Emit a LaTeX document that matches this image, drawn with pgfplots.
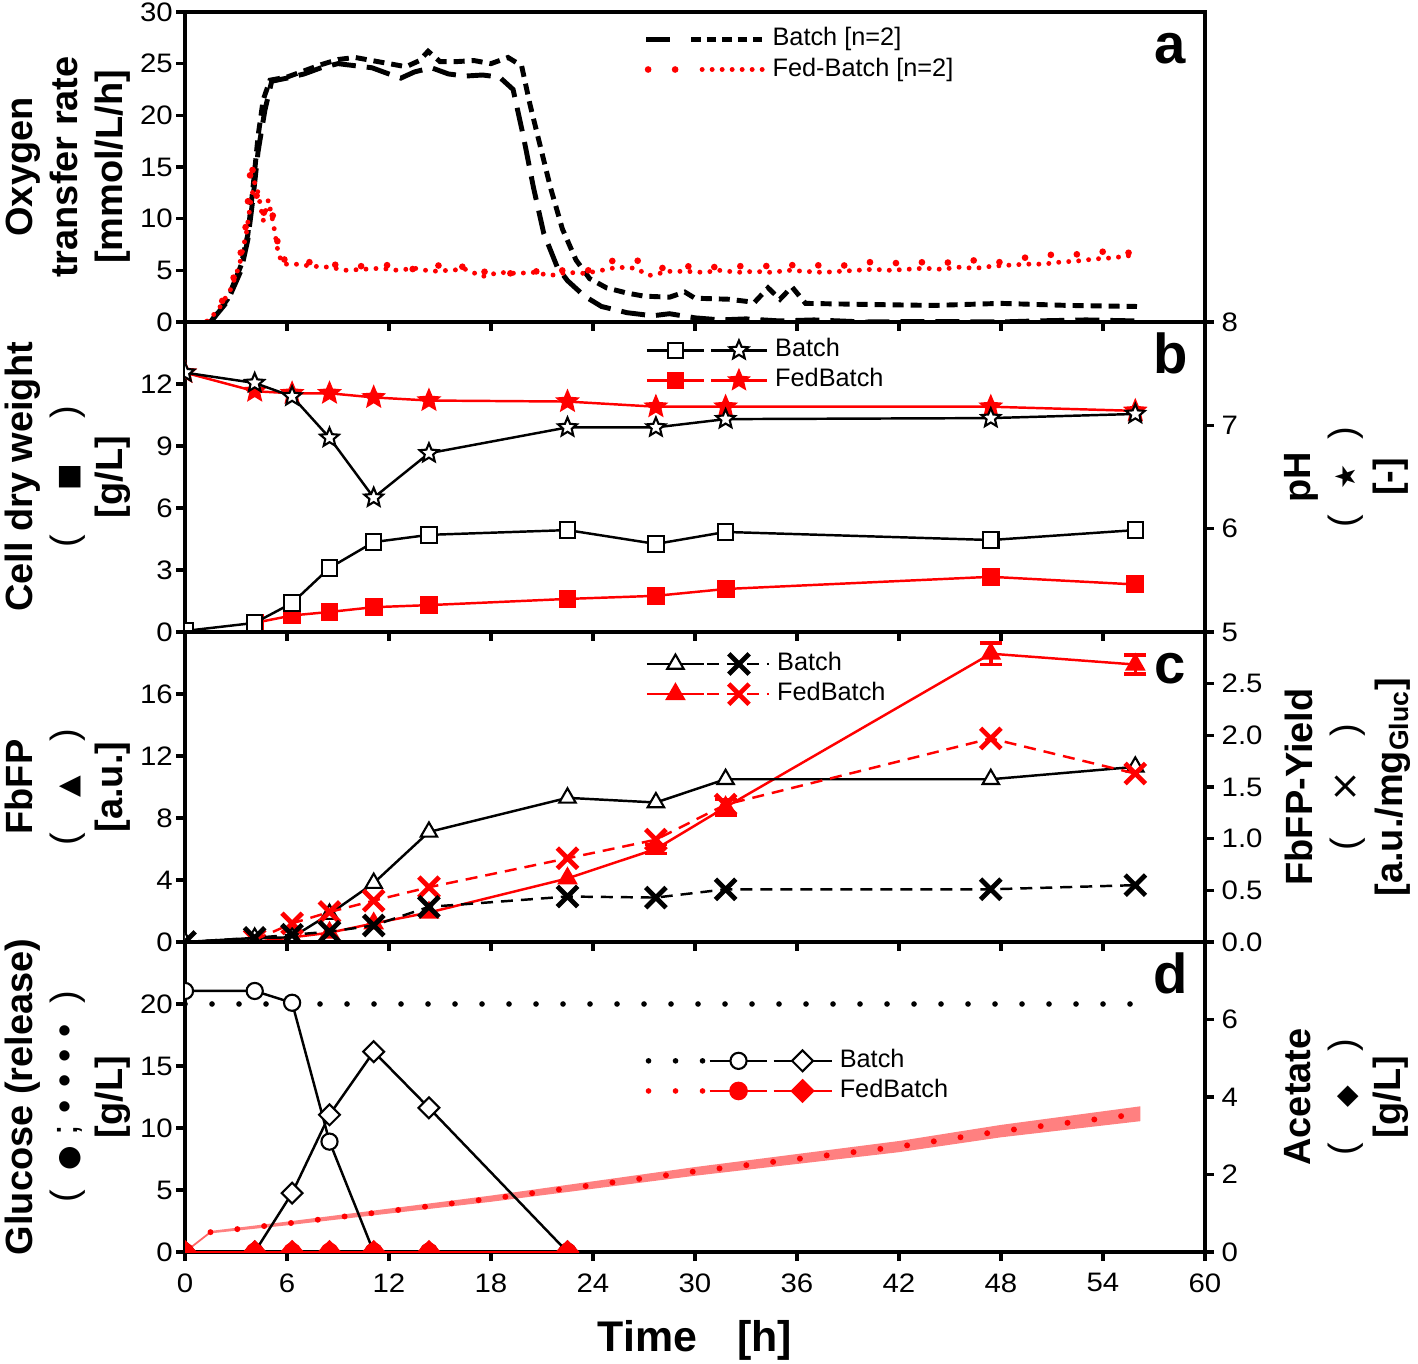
\documentclass[border=0pt]{standalone}
\usepackage{fontspec}
\setmainfont{Liberation Sans}
\newfontfamily\sym{DejaVu Sans}
\newfontfamily\tickfont[FakeStretch=1.1]{Liberation Sans}
\usepackage{pgfplots}
\pgfplotsset{compat=1.18}
\usetikzlibrary{plotmarks}

\pgfdeclareplotmark{ostar}{%
 \pgfpathmoveto{\pgfpointpolar{90}{\pgfplotmarksize}}%
 \pgfpathlineto{\pgfpointpolar{126}{0.45\pgfplotmarksize}}%
 \pgfpathlineto{\pgfpointpolar{162}{\pgfplotmarksize}}%
 \pgfpathlineto{\pgfpointpolar{198}{0.45\pgfplotmarksize}}%
 \pgfpathlineto{\pgfpointpolar{234}{\pgfplotmarksize}}%
 \pgfpathlineto{\pgfpointpolar{270}{0.45\pgfplotmarksize}}%
 \pgfpathlineto{\pgfpointpolar{306}{\pgfplotmarksize}}%
 \pgfpathlineto{\pgfpointpolar{342}{0.45\pgfplotmarksize}}%
 \pgfpathlineto{\pgfpointpolar{18}{\pgfplotmarksize}}%
 \pgfpathlineto{\pgfpointpolar{54}{0.45\pgfplotmarksize}}%
 \pgfpathclose
 \pgfusepathqfillstroke
}

\tikzset{lt/.style={font=\fontsize{16}{16}\selectfont\bfseries, anchor=base},
 xm/.style={mark=x, mark size=4.1pt, mark options={solid, line width=1.35pt}}}

\pgfplotsset{
 panel/.style={width=102mm, height=31mm, scale only axis, xmin=0, xmax=60,
   xtick={0,6,...,60}, tick align=outside, major tick length=0.9mm,
   xtick pos=left, ytick pos=left,
   axis line style={line width=1.3pt}, tick style={line width=1pt, black},
   tick label style={font=\tickfont\fontsize{7.6}{9}\selectfont},
   yticklabel style={inner sep=0.7pt},
   /pgf/number format/assume math mode=true, clip marker paths=true,
   ylabel style={at={(axis description cs:-0.0529,0.5)}, anchor=south, align=center, inner sep=0pt,
     font=\fontsize{10.8}{12.8}\selectfont\bfseries},
   legend style={anchor=north west, draw=none, fill=none, font=\fontsize{7.2}{8.6}\selectfont,
     row sep=0.15mm, inner sep=0pt, nodes={inner sep=0.25mm},
     /tikz/every odd column/.append style={column sep=0.45mm}},
   legend cell align=left},
 rpanel/.style={width=102mm, height=31mm, scale only axis, xmin=0, xmax=60,
   axis x line=none, axis y line*=right, tick align=outside, major tick length=0.9mm,
   axis line style={line width=1.3pt}, tick style={line width=1pt, black},
   tick label style={font=\tickfont\fontsize{7.6}{9}\selectfont},
   yticklabel style={inner sep=2pt},
   /pgf/number format/assume math mode=true, clip marker paths=true,
   ylabel style={at={(axis description cs:1.0775,0.5)}, anchor=north, align=center, inner sep=0pt,
     font=\fontsize{10.8}{12.8}\selectfont\bfseries}}
}

\begin{document}
\begin{tikzpicture}
% ---------------- panel a
\begin{axis}[panel, at={(0,93mm)}, ymin=0, ymax=30, ytick={0,5,...,30}, xticklabels=\empty,
  ylabel={Oxygen\\transfer rate\\{}[mmol/L/h]},
  legend style={at={(axis description cs:0.449,0.96)}}]
\addlegendimage{legend image code/.code={%
  \draw[black,line width=1.4pt] (0mm,0mm)--(2.4mm,0mm);
  \draw[black,line width=1.4pt,dash pattern=on 0.95mm off 0.6mm] (4.5mm,0mm)--(11.6mm,0mm);}}
\addlegendentry{Batch [n=2]}
\addlegendimage{legend image code/.code={%
  \draw[red,line width=1.9pt,line cap=round,dash pattern=on 0pt off 2.7mm] (0.2mm,0mm)--(3mm,0mm);
  \draw[red,line width=1.4pt,line cap=round,dash pattern=on 0pt off 1mm] (5.6mm,0mm)--(11.7mm,0mm);}}
\addlegendentry{Fed-Batch [n=2]}
\addplot[forget plot, black, line width=1.4pt, dash pattern=on 2.4mm off 1.1mm] coordinates {
(1.5,0)(2.5,2.0)(3.3,5.0)(3.7,8)(4.0,12)(4.3,16.5)(4.7,20.5)(5.1,23.3)(6,23.6)(7,24.0)(8,24.6)(9,25.0)(10,24.8)(11,24.6)(12,24.0)(12.7,23.6)(13.5,24.2)(14.5,24.6)(15.5,24.0)(16.5,23.8)(17.5,23.9)(18.5,23.7)(19.3,22.5)(19.9,18)(20.5,13)(21.1,8.6)(21.9,5.3)(22.5,4.0)(23.5,2.5)(24.5,1.5)(26,0.9)(27.5,0.6)(28.5,0.8)(30,0.4)(31.5,0.2)(33,0.3)(35,0.1)(37,0.2)(40,0)(44,0.05)(48,0)(50,0.1)(53,0.2)(56,0.1)};
\addplot[forget plot, black, line width=1.4pt, dash pattern=on 1.1mm off 0.7mm] coordinates {
(1.5,0)(2.5,2.2)(3.3,5.5)(3.7,8.5)(4.0,13)(4.3,18)(4.6,21.5)(5,23.4)(6,23.7)(7,24.3)(8,24.9)(9,25.4)(10,25.6)(11,25.3)(12,25.0)(13,24.7)(13.8,25.3)(14.3,26.2)(15,25.2)(16,25.2)(17,25.3)(18,25.0)(19,25.6)(19.8,24.8)(20.3,21)(20.9,17)(21.5,13)(22.2,9)(23,6)(23.8,4.2)(24.8,3.3)(26,2.8)(27,2.5)(28.5,2.4)(29.4,2.9)(30,2.3)(32,2.2)(33.5,1.9)(34.3,3.3)(35,2.2)(35.7,3.4)(36.5,1.8)(40,1.7)(44,1.6)(48,1.8)(52,1.6)(56,1.5)};
\addplot[forget plot, red, line width=1.9pt, line cap=round, dash pattern=on 0pt off 2.6mm] coordinates {
(1.3,0)(2,1.5)(2.7,3.5)(3.2,6)(3.6,9.5)(3.9,15.7)(4.1,13)(4.5,10.2)(5.0,11.6)(5.2,10)(5.3,8.9)(5.5,7.3)(5.6,5.8)(6.0,6.2)(6.6,5.9)(7.2,5.8)(8.3,5.7)(9.3,5.4)(10.4,5.4)(11.1,5.4)(11.9,5.5)(13.3,5.1)(14.7,5.4)(16.0,5.8)(16.9,4.5)(17.7,4.9)(19.1,4.7)(20.7,4.9)(22.4,5.0)(23.9,5.0)(25.4,6.1)(26.5,6.0)(27.9,5.2)(29.4,5.4)(30.9,5.3)(32.4,5.4)(34,5.4)(35.4,5.5)(37,5.5)(38.5,5.4)(40.1,5.8)(41.8,5.7)(43,5.8)(44.6,5.7)(46.2,6.0)(47.6,5.7)(49.3,6.2)(50.7,6.5)(52.2,6.5)(53.8,6.8)(55.3,6.8)(55.9,6.5)};
\addplot[forget plot, red, line width=1.4pt, line cap=round, dash pattern=on 0pt off 1mm] coordinates {
(1.3,0)(2,1.3)(2.7,3.2)(3.2,5.5)(3.6,8.5)(3.9,12)(4.1,13.5)(4.3,12.5)(4.6,9.8)(4.9,11.8)(5.2,9.5)(5.5,6.5)(5.8,5.6)(6.5,5.6)(7.5,5.4)(8.5,5.3)(9.5,5.0)(10.5,5.1)(11.5,5.2)(12.5,5.0)(13.5,5.2)(14.5,4.9)(15.5,5.0)(16.5,5.1)(17.5,4.4)(18.5,4.8)(19.5,4.7)(20.5,4.8)(21.5,4.5)(22.5,4.8)(23.5,4.7)(24.5,5.0)(25.5,5.3)(26.5,5.2)(27.3,4.5)(28.5,4.9)(29.5,4.9)(30.5,4.8)(31.5,5.0)(32.5,4.8)(33.5,4.9)(34.5,4.8)(35.5,5.0)(36.5,4.9)(37.5,4.8)(38.5,4.9)(39.5,5.0)(40.5,5.1)(41.5,5.0)(42.5,5.1)(43.5,5.2)(44.5,5.1)(45.5,5.3)(46.5,5.2)(47.5,5.4)(48.5,5.5)(49.5,5.6)(50.5,5.6)(51.5,5.8)(52.5,5.9)(53.5,6.1)(54.5,6.2)(55.5,6.4)(56,6.3)};
\node[lt] at (axis description cs:0.966,0.835) {a};
\end{axis}

% ---------------- panel b
\begin{axis}[panel, at={(0,62mm)}, ymin=0, ymax=15, ytick={0,3,...,12}, xticklabels=\empty,
  ylabel={Cell dry weight\\{\mdseries(\hspace{4.5mm}{\sym\footnotesize ■}\hspace{4.5mm})}\\{}[g/L]},
  legend style={at={(axis description cs:0.451,0.957)}}]
\addlegendimage{legend image code/.code={%
  \draw[black,line width=0.7pt,mark=square*,mark size=2.2pt,mark options={fill=white,line width=0.6pt},mark repeat=2,mark phase=2] plot coordinates {(0mm,0mm)(2.85mm,0mm)(5.7mm,0mm)};
  \draw[black,line width=0.7pt,mark=ostar,mark size=2.8pt,mark options={fill=white,line width=0.6pt},mark repeat=2,mark phase=2] plot coordinates {(6.4mm,0mm)(9.2mm,0mm)(12mm,0mm)};}}
\addlegendentry{Batch}
\addlegendimage{legend image code/.code={%
  \draw[red,line width=0.7pt,mark=square*,mark size=2.2pt,mark options={fill=red,line width=0.6pt},mark repeat=2,mark phase=2] plot coordinates {(0mm,0mm)(2.85mm,0mm)(5.7mm,0mm)};
  \draw[red,line width=0.7pt,mark=ostar,mark size=2.8pt,mark options={fill=red,line width=0.6pt},mark repeat=2,mark phase=2] plot coordinates {(6.4mm,0mm)(9.2mm,0mm)(12mm,0mm)};}}
\addlegendentry{FedBatch}
\addplot[forget plot, red, line width=0.7pt, mark=square*, mark size=2.2pt, mark options={fill=red}] coordinates {
(4.1,0.44)(6.3,0.8)(8.5,0.97)(11.1,1.2)(14.35,1.3)(22.5,1.6)(27.7,1.75)(31.8,2.08)(47.4,2.67)(55.9,2.3)};
\addplot[forget plot, black, line width=0.7pt, mark=square*, mark size=2.2pt, mark options={fill=white, line width=0.6pt}] coordinates {
(0,0.05)(4.1,0.44)(6.3,1.4)(8.5,3.1)(11.1,4.35)(14.35,4.7)(22.5,4.93)(27.7,4.26)(31.8,4.84)(47.4,4.45)(55.9,4.93)};
\node[lt] at (axis description cs:0.966,0.835) {b};
\end{axis}
\begin{axis}[rpanel, at={(0,62mm)}, ymin=5, ymax=8, ytick={5,6,7,8},
  ylabel={pH\\{\mdseries(\hspace{2.5mm}{\sym\footnotesize ★}\hspace{2.5mm})}\\{}[-]}]
\addplot[red, line width=0.7pt, mark=ostar, mark size=2.8pt, mark options={fill=red}] coordinates {
(0,7.51)(4.1,7.33)(6.3,7.31)(8.5,7.31)(11.1,7.27)(14.35,7.24)(22.5,7.23)(27.7,7.18)(31.8,7.18)(47.4,7.18)(55.9,7.14)};
\addplot[black, line width=0.7pt, mark=ostar, mark size=2.8pt, mark options={fill=white, line width=0.6pt}] coordinates {
(0,7.51)(4.1,7.41)(6.3,7.28)(8.5,6.88)(11.1,6.30)(14.35,6.73)(22.5,6.98)(27.7,6.98)(31.8,7.06)(47.4,7.07)(55.9,7.11)};
\end{axis}

% ---------------- panel c
\begin{axis}[panel, at={(0,31mm)}, ymin=0, ymax=20, ytick={0,4,...,16}, xticklabels=\empty,
  ylabel={FbFP\\{\mdseries(\hspace{3.5mm}{\sym\footnotesize ▲}\hspace{3.5mm})}\\{}[a.u.]},
  legend style={at={(axis description cs:0.451,0.945)}}]
\addlegendimage{legend image code/.code={%
  \draw[black,line width=0.7pt,mark=triangle*,mark size=2.7pt,mark options={fill=white,line width=0.6pt},mark repeat=2,mark phase=2] plot coordinates {(0mm,0mm)(2.85mm,0mm)(5.7mm,0mm)};
  \draw[black,line width=0.7pt,dash pattern=on 1.2mm off 0.8mm,xm,mark repeat=2,mark phase=2] plot coordinates {(6.0mm,0mm)(9.2mm,0mm)(12.2mm,0mm)};}}
\addlegendentry{Batch}
\addlegendimage{legend image code/.code={%
  \draw[red,line width=0.7pt,mark=triangle*,mark size=2.7pt,mark options={fill=red},mark repeat=2,mark phase=2] plot coordinates {(0mm,0mm)(2.85mm,0mm)(5.7mm,0mm)};
  \draw[red,line width=0.7pt,dash pattern=on 1.2mm off 0.8mm,xm,mark repeat=2,mark phase=2] plot coordinates {(6.0mm,0mm)(9.2mm,0mm)(12.2mm,0mm)};}}
\addlegendentry{FedBatch}
\addplot[forget plot, red, line width=0.7pt, mark=triangle*, mark size=2.7pt, mark options={fill=red},
  error bars/.cd, y dir=both, y explicit, error bar style={line width=1pt}, error mark options={rotate=90, mark size=1.1mm, line width=1pt}] coordinates {
(4.1,0)(6.3,0.3)(8.5,0.6)(11.1,1.2)(14.35,1.9)(22.5,4.1)(27.7,6.0) +- (0,0.3) (31.8,8.7) +- (0,0.5) (47.4,18.6) +- (0,0.7) (55.9,17.9) +- (0,0.6)};
\addplot[forget plot, black, line width=0.7pt, mark=triangle*, mark size=2.7pt, mark options={fill=white, line width=0.6pt}] coordinates {
(0,0)(4.1,0.26)(6.3,0.3)(8.5,1.8)(11.1,3.8)(14.35,7.1)(22.5,9.3)(27.7,9.0)(31.8,10.5)(47.4,10.5)(55.9,11.3)};
\node[lt] at (axis description cs:0.966,0.835) {c};
\end{axis}
\begin{axis}[rpanel, at={(0,31mm)}, ymin=0, ymax=3, ytick={0,0.5,...,2.5},
  yticklabel style={/pgf/number format/.cd, fixed, fixed zerofill, precision=1},
  ylabel={FbFP-Yield\\{\mdseries(\hspace{3.5mm}{\sym ×}\hspace{3.5mm})}\\{}[a.u./mg\textsubscript{Gluc}]}]
\addplot[red, line width=0.7pt, dash pattern=on 1.2mm off 0.8mm, xm] coordinates {
(4.1,0.02)(6.3,0.18)(8.5,0.29)(11.1,0.4)(14.35,0.53)(22.5,0.81)(27.7,0.99)(31.8,1.33)(47.4,1.97)(55.9,1.63)};
\addplot[black, line width=0.7pt, dash pattern=on 1.2mm off 0.8mm, xm] coordinates {
(0,0)(4.1,0.04)(6.3,0.07)(8.5,0.1)(11.1,0.16)(14.35,0.34)(22.5,0.44)(27.7,0.43)(31.8,0.51)(47.4,0.51)(55.9,0.55)};
\end{axis}

% ---------------- panel d
\begin{axis}[panel, at={(0,0mm)}, ymin=0, ymax=25, ytick={0,5,...,20},
  xlabel={Time\hspace{4mm}[h]},
  xlabel style={at={(axis description cs:0.5,-0.219)}, anchor=north, inner sep=0pt, font=\fontsize{12.2}{14}\selectfont\bfseries},
  ylabel={Glucose (release)\\{\mdseries(\hspace{2mm}{\sym\footnotesize ●}\hspace{1mm};\hspace{1.2mm}•\hspace{1.2mm}•\hspace{1.2mm}•\hspace{1.2mm}•\hspace{2mm})}\\{}[g/L]},
  legend style={at={(axis description cs:0.451,0.665)}}]
\addlegendimage{legend image code/.code={%
  \draw[black,line width=1.6pt,line cap=round,dash pattern=on 0pt off 2.7mm] (0.2mm,0mm)--(5.6mm,0mm);
  \draw[black,line width=0.7pt,mark=*,mark size=2.3pt,mark options={fill=white,line width=0.6pt},mark repeat=2,mark phase=2] plot coordinates {(6.3mm,0mm)(9.2mm,0mm)(12mm,0mm)};
  \draw[black,line width=0.7pt,mark=square*,mark size=2.1pt,mark options={fill=white,rotate=45,line width=0.6pt},mark repeat=2,mark phase=2] plot coordinates {(12.7mm,0mm)(15.6mm,0mm)(18.5mm,0mm)};}}
\addlegendentry{Batch}
\addlegendimage{legend image code/.code={%
  \draw[red,line width=1.6pt,line cap=round,dash pattern=on 0pt off 2.7mm] (0.2mm,0mm)--(5.6mm,0mm);
  \draw[red,line width=0.7pt,mark=*,mark size=2.3pt,mark options={fill=red},mark repeat=2,mark phase=2] plot coordinates {(6.3mm,0mm)(9.2mm,0mm)(12mm,0mm)};
  \draw[red,line width=0.7pt,mark=square*,mark size=2.1pt,mark options={fill=red,rotate=45},mark repeat=2,mark phase=2] plot coordinates {(12.7mm,0mm)(15.6mm,0mm)(18.5mm,0mm)};}}
\addlegendentry{FedBatch}
\addplot[forget plot, black, line width=1.6pt, line cap=round, dash pattern=on 0pt off 2.7mm] coordinates {(0,20)(56,20)};
\addplot[forget plot, fill=red!50, draw=none] coordinates {
(1.5,1.7)(6,2.45)(12,3.5)(18,4.55)(24,5.7)(30,6.85)(36,7.9)(42,8.95)(48,10.25)(56.2,11.75)
(56.2,10.55)(48,9.25)(42,8.05)(36,7.1)(30,6.15)(24,5.1)(18,4.05)(12,3.1)(6,2.15)(1.5,1.5)} -- cycle;
\addplot[forget plot, red!60, line width=0.5pt] coordinates {(0,0)(1.5,1.6)};
\addplot[forget plot, red, line width=1.7pt, line cap=round, dash pattern=on 0pt off 2.7mm] coordinates {
(1.5,1.6)(6,2.3)(12,3.3)(18,4.3)(24,5.4)(30,6.5)(36,7.5)(42,8.5)(48,9.75)(56.2,11.15)};
\addplot[forget plot, black, line width=0.7pt, mark=*, mark size=2.3pt, mark options={fill=white, line width=0.6pt}] coordinates {
(0,21.05)(4.1,21.05)(6.3,20.1)(8.5,8.9)(11.1,0)(14.35,0)(22.5,0)};
\addplot[forget plot, red, line width=0.7pt, mark=*, mark size=2.3pt, mark options={fill=red}] coordinates {
(0,0)(4.1,0)(6.3,0)(8.5,0)(11.1,0)(14.35,0)(22.5,0)};
\node[lt] at (axis description cs:0.966,0.835) {d};
\end{axis}
\begin{axis}[rpanel, at={(0,0mm)}, ymin=0, ymax=8, ytick={0,2,4,6},
  ylabel={Acetate\\{\mdseries(\hspace{3.5mm}{\sym\footnotesize ◆}\hspace{3.5mm})}\\{}[g/L]}]
\addplot[black, line width=0.7pt, mark=square*, mark size=2.1pt, mark options={fill=white, rotate=45, line width=0.6pt}] coordinates {
(0,0)(4.1,0)(6.3,1.52)(8.5,3.54)(11.1,5.17)(14.35,3.72)(22.5,0)};
\addplot[red, line width=0.7pt, mark=square*, mark size=2.1pt, mark options={fill=red, rotate=45}] coordinates {
(0,0)(4.1,0)(6.3,0)(8.5,0)(11.1,0)(14.35,0)(22.5,0)};
\end{axis}
\pgfresetboundingbox
\path (-18.5mm,-11.1mm) rectangle (123.3mm,125.2mm);
\end{tikzpicture}
\end{document}
